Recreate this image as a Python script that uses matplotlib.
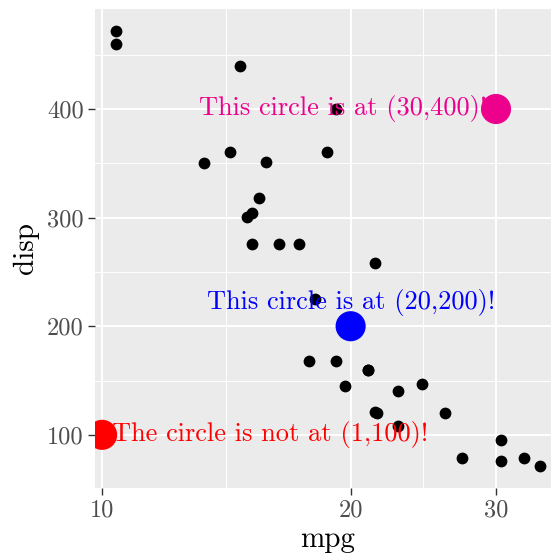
import matplotlib
matplotlib.use("Agg")
import matplotlib.pyplot as plt
import numpy as np

plt.rcParams['font.family'] = ['cmr10', 'DejaVu Serif']
plt.rcParams['mathtext.fontset'] = 'cm'
plt.rcParams['axes.formatter.use_mathtext'] = True

# mtcars: mpg and disp
mpg = [21.0, 21.0, 22.8, 21.4, 18.7, 18.1, 14.3, 24.4, 22.8, 19.2, 17.8, 16.4, 17.3, 15.2,
       10.4, 10.4, 14.7, 32.4, 30.4, 33.9, 21.5, 15.5, 15.2, 13.3, 19.2, 27.3, 26.0, 30.4,
       15.8, 19.7, 15.0, 21.4]
disp = [160, 160, 108, 258, 360, 225, 360, 146.7, 140.8, 167.6, 167.6, 275.8, 275.8, 275.8,
        472, 460, 440, 78.7, 75.7, 71.1, 120.1, 318, 304, 350, 400, 79, 120.3, 95.1,
        351, 145, 301, 121]

circle_x = [10, 20, 30]
circle_y = [100, 200, 400]
circle_colors = ['#FF0000', '#0000FF', '#EC008C']
labels = ['The circle is not at (1,100)!', 'This circle is at (20,200)!', 'This circle is at (30,400)!']
label_x = [10, 20, 30]
label_y = [100, 222, 400]
label_ha = ['left', 'center', 'right']
label_dx = [7, 0, -6]

x_ticks = [10, 20, 30]
y_ticks = [100, 200, 300, 400]

fig = plt.figure(figsize=(5.51, 5.59), dpi=100)
ax = fig.add_axes([95 / 551, 71 / 559, 466 / 551, 479 / 559])
ax.set_facecolor('#EBEBEB')
ax.set_xscale('log')

# limits as ggplot computes them (5% expansion, log x)
lx = np.log10([min(mpg), max(mpg)])
ex = 0.05 * (lx[1] - lx[0])
ax.set_xlim(10 ** (lx[0] - ex), 10 ** (lx[1] + ex))
ey = 0.05 * (max(disp) - min(disp))
ax.set_ylim(min(disp) - ey, max(disp) + ey)

# grid
xminor = [10 ** ((np.log10(a) + np.log10(b)) / 2) for a, b in zip(x_ticks[:-1], x_ticks[1:])]
for v in xminor:
    ax.axvline(v, color='white', lw=0.7, zorder=0)
for v in [150, 250, 350, 450]:
    ax.axhline(v, color='white', lw=0.7, zorder=0)
for v in x_ticks:
    ax.axvline(v, color='white', lw=1.4, zorder=0)
for v in y_ticks:
    ax.axhline(v, color='white', lw=1.4, zorder=0)

ax.scatter(mpg, disp, s=72, color='black', lw=0, zorder=2)

for x, y, t, c, ha, dx in zip(label_x, label_y, labels, circle_colors, label_ha, label_dx):
    ax.annotate(t, (x, y), xytext=(dx, 0), textcoords='offset points', ha=ha, va='center',
                color=c, fontsize=19, zorder=3)

ax.scatter(circle_x, circle_y, s=470, c=circle_colors, lw=0, zorder=4)

ax.xaxis.set_minor_locator(matplotlib.ticker.NullLocator())
ax.set_xticks(x_ticks)
ax.set_xticklabels([str(v) for v in x_ticks])
ax.set_yticks(y_ticks)
ax.set_yticklabels([str(v) for v in y_ticks])
ax.tick_params(length=5, width=1, color='#333333', labelcolor='#4D4D4D', labelsize=17.5, pad=3)
for s in ax.spines.values():
    s.set_visible(False)

ax.set_xlabel('mpg', fontsize=21, labelpad=4)
ax.set_ylabel('disp', fontsize=21, labelpad=6)

fig.savefig('out.png', dpi=100)
